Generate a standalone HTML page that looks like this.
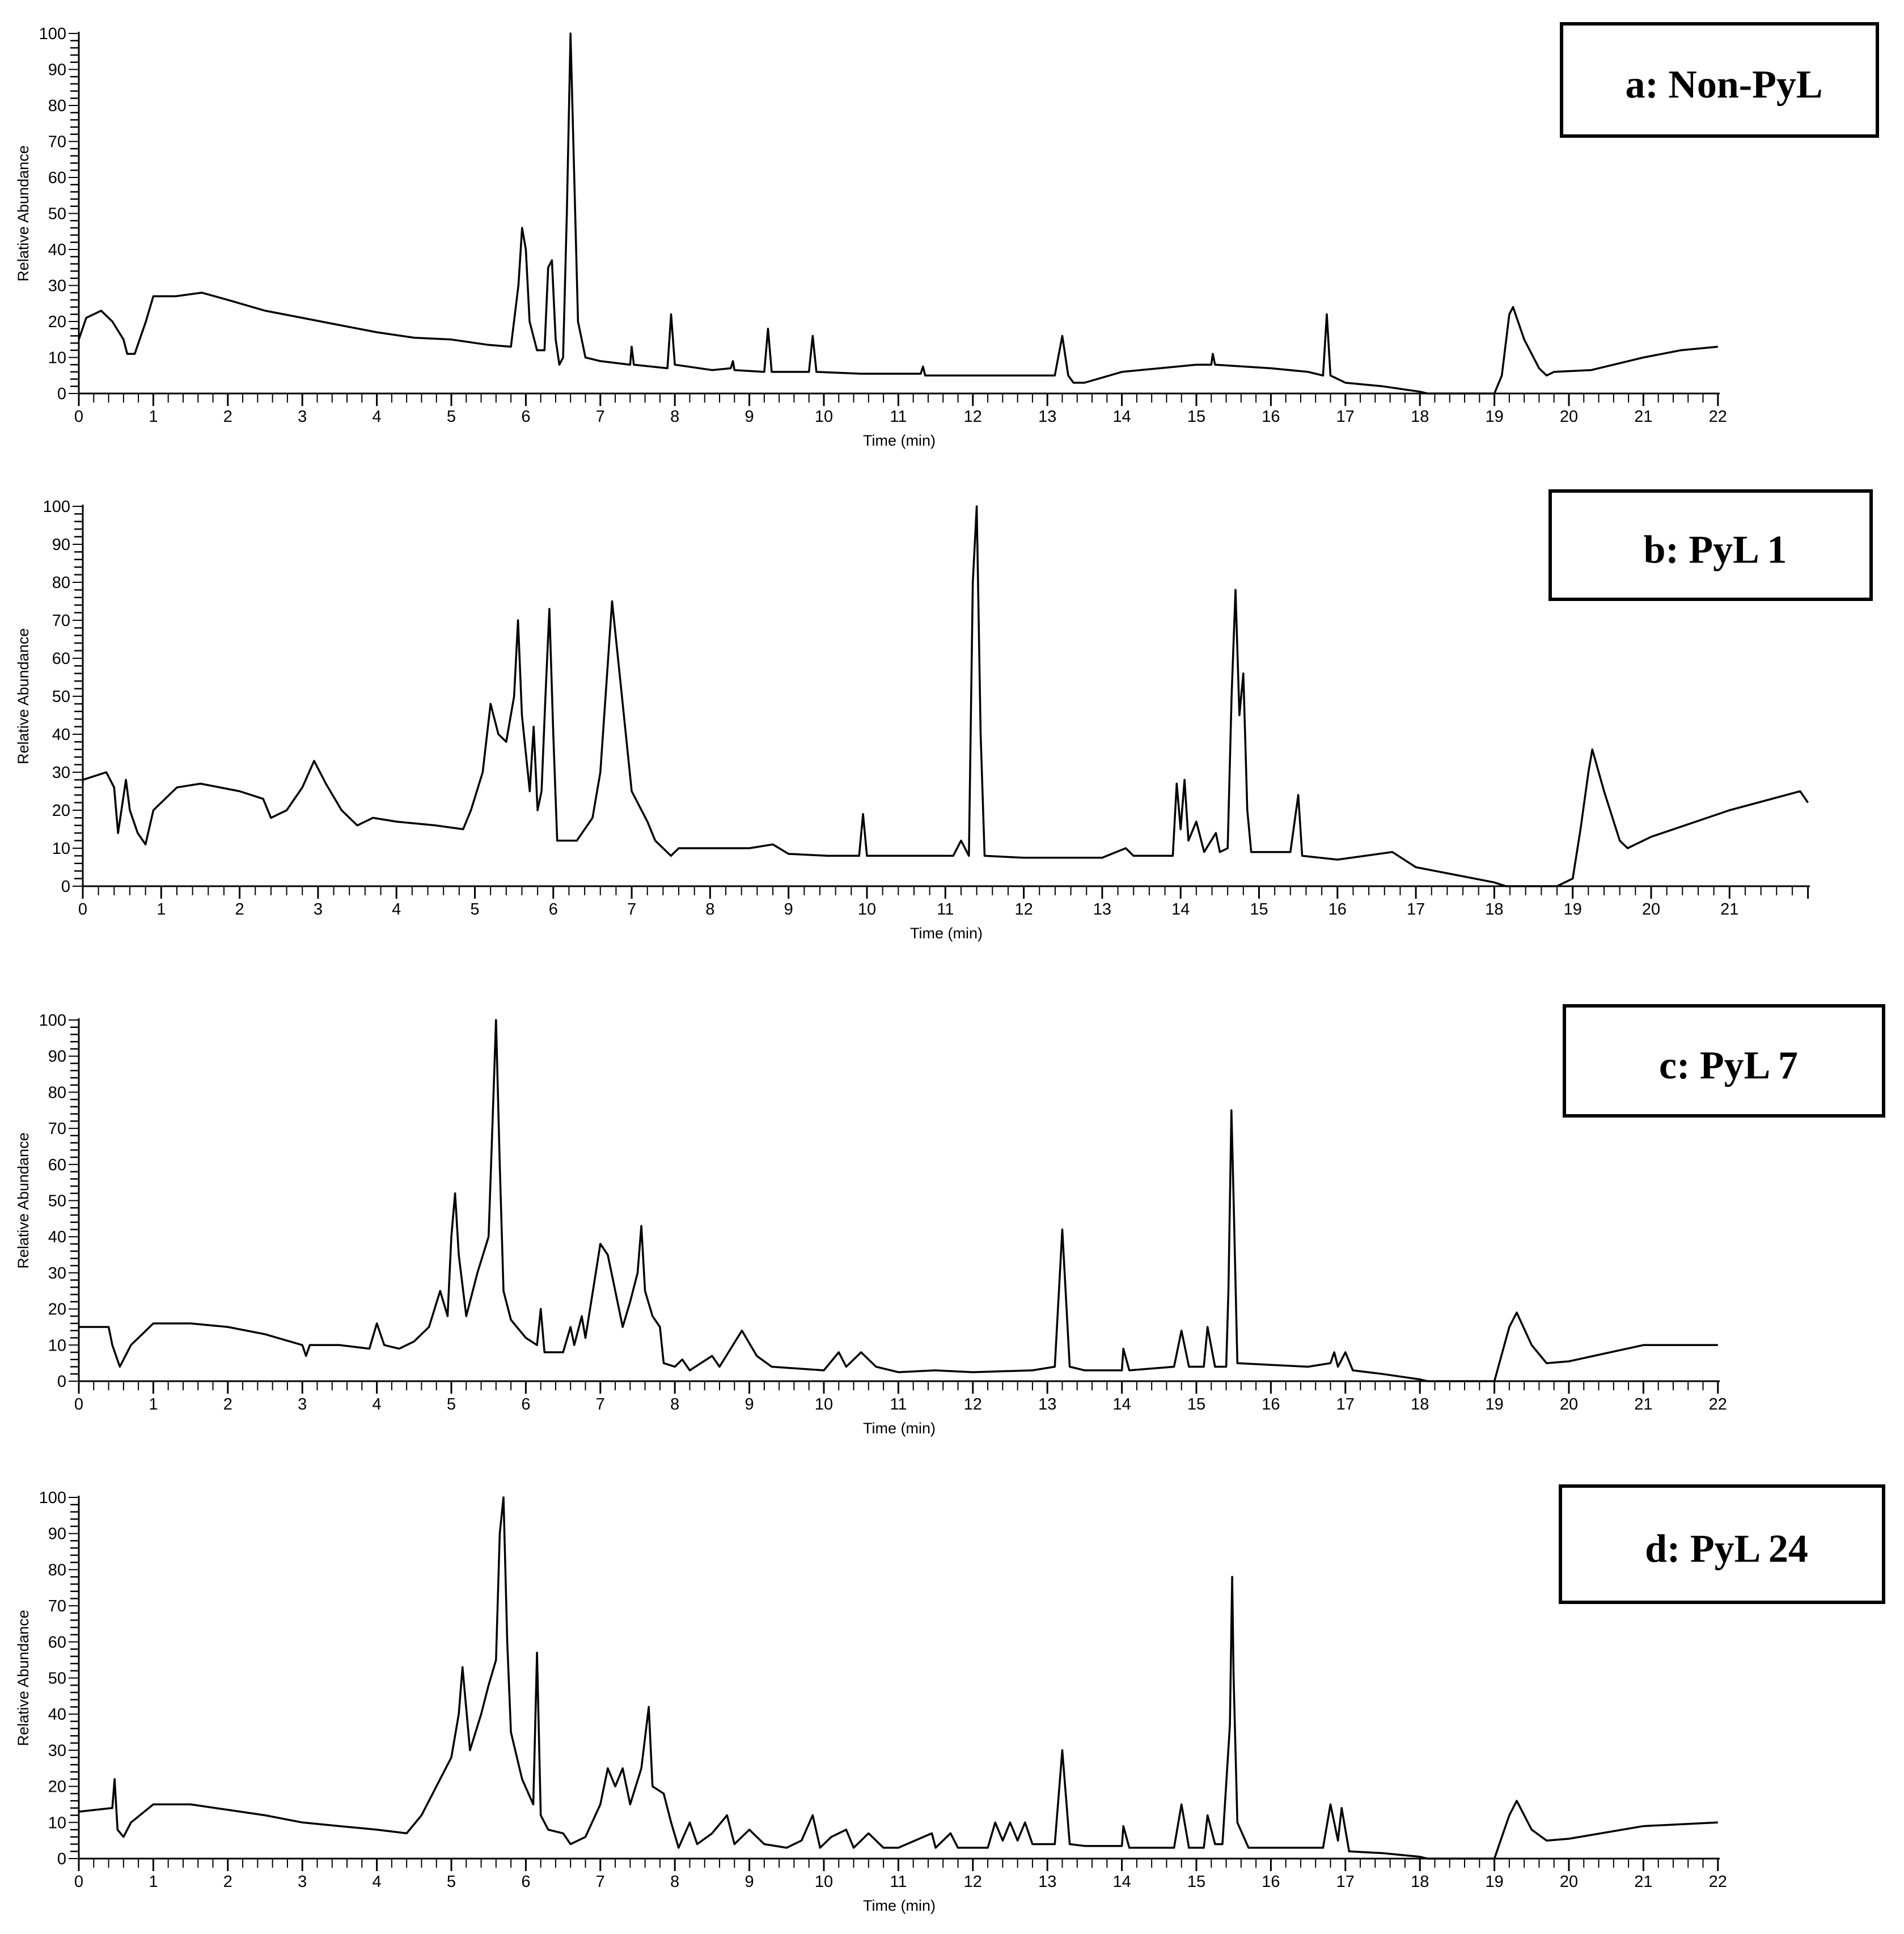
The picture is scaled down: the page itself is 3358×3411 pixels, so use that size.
<!DOCTYPE html>
<html><head><meta charset="utf-8">
<style>
html,body{margin:0;padding:0;background:#fff;}
svg{display:block;}
text{font-family:"Liberation Sans",sans-serif;fill:#000;}
.box{font-family:"Liberation Serif",serif;font-weight:bold;}
</style></head>
<body>
<svg id="chart" width="3358" height="3411" viewBox="0 0 3358 3411" xmlns="http://www.w3.org/2000/svg"></svg>
<script>
const timesA=[0,0.1,0.3,0.45,0.6,0.65,0.75,0.9,1.0,1.3,1.65,2,2.5,3,3.5,4,4.5,5,5.5,5.8,5.9,5.95,6.0,6.05,6.15,6.25,6.3,6.35,6.4,6.45,6.5,6.55,6.6,6.65,6.7,6.8,7.0,7.4,7.42,7.45,7.9,7.95,8.0,8.5,8.75,8.78,8.8,9.2,9.25,9.3,9.8,9.85,9.9,10.5,11.3,11.33,11.36,12,12.5,13.1,13.2,13.28,13.35,13.5,14,15,15.2,15.22,15.25,16,16.5,16.7,16.75,16.8,17,17.5,18,18.1,19,19.1,19.2,19.25,19.4,19.6,19.7,19.8,20.3,21,21.5,22];
const valuesA=[15,21,23,20,15,11,11,20,27,27,28,26,23,21,19,17,15.5,15,13.5,13,30,46,40,20,12,12,35,37,15,8,10,50,100,60,20,10,9,8,13,8,7,22,8,6.5,7,9,6.5,6,18,6,6,16,6,5.5,5.5,7.5,5,5,5,5,16,5,3,3,6,8,8,11,8,7,6,5,22,5,3,2,0.5,0,0,5,22,24,15,7,5,6,6.5,10,12,13];
const timesB=[0,0.3,0.4,0.45,0.55,0.6,0.7,0.8,0.9,1.2,1.5,2,2.3,2.4,2.6,2.8,2.95,3.1,3.3,3.5,3.7,4,4.5,4.85,4.95,5.1,5.2,5.3,5.4,5.5,5.55,5.6,5.7,5.75,5.8,5.85,5.9,5.95,6.0,6.05,6.3,6.5,6.6,6.75,6.85,7.0,7.2,7.3,7.5,7.6,8,8.5,8.8,9,9.5,9.9,9.95,10.0,10.5,11.1,11.2,11.3,11.35,11.4,11.45,11.5,12,13,13.3,13.4,13.9,13.95,14.0,14.05,14.1,14.2,14.3,14.45,14.5,14.6,14.65,14.7,14.75,14.8,14.85,14.9,15.4,15.5,15.55,16,16.7,17,17.5,18,18.15,18.8,19.0,19.1,19.2,19.25,19.4,19.6,19.7,20,21,21.9,22];
const valuesB=[28,30,26,14,28,20,14,11,20,26,27,25,23,18,20,26,33,27,20,16,18,17,16,15,20,30,48,40,38,50,70,45,25,42,20,25,50,73,40,12,12,18,30,75,55,25,17,12,8,10,10,10,11,8.5,8,8,19,8,8,8,12,8,80,100,40,8,7.5,7.5,10,8,8,27,15,28,12,17,9,14,9,10,50,78,45,56,20,9,9,24,8,7,9,5,3,1,0,0,2,15,30,36,25,12,10,13,20,25,22];
const timesC=[0,0.4,0.45,0.55,0.7,1.0,1.5,2,2.5,3,3.05,3.1,3.5,3.9,4.0,4.1,4.3,4.5,4.7,4.85,4.95,5.0,5.05,5.1,5.2,5.35,5.5,5.55,5.6,5.65,5.7,5.8,6.0,6.15,6.2,6.25,6.5,6.6,6.65,6.75,6.8,6.9,7.0,7.1,7.2,7.3,7.4,7.5,7.55,7.6,7.7,7.8,7.85,8,8.1,8.2,8.5,8.6,8.9,9.1,9.3,10,10.2,10.3,10.5,10.7,11,11.5,12,12.8,13.1,13.2,13.3,13.5,14,14.02,14.1,14.7,14.8,14.9,15.1,15.15,15.25,15.4,15.43,15.47,15.5,15.55,16,16.5,16.8,16.85,16.9,17.0,17.1,17.5,18,18.1,19.0,19.2,19.3,19.5,19.7,20,21,22];
const valuesC=[15,15,10,4,10,16,16,15,13,10,7,10,10,9,16,10,9,11,15,25,18,40,52,35,18,30,40,70,100,60,25,17,12,10,20,8,8,15,10,18,12,25,38,35,25,15,22,30,43,25,18,15,5,4,6,3,7,4,14,7,4,3,8,4,8,4,2.5,3,2.5,3,4,42,4,3,3,9,3,4,14,4,4,15,4,4,25,75,50,5,4.5,4,5,8,4,8,3,2,0.5,0,0,15,19,10,5,5.5,10,10];
const timesD=[0,0.45,0.48,0.52,0.6,0.7,1.0,1.5,2,2.5,3,3.5,4,4.4,4.6,4.8,5.0,5.1,5.15,5.25,5.4,5.5,5.6,5.65,5.7,5.75,5.8,5.95,6.1,6.15,6.2,6.3,6.5,6.6,6.8,7.0,7.1,7.2,7.3,7.4,7.55,7.65,7.7,7.85,7.95,8.05,8.2,8.3,8.5,8.7,8.8,9.0,9.2,9.5,9.7,9.85,9.95,10.1,10.3,10.4,10.6,10.8,11,11.45,11.5,11.7,11.8,12.2,12.3,12.4,12.5,12.6,12.7,12.8,13.1,13.2,13.3,13.5,14,14.02,14.1,14.7,14.8,14.9,15.1,15.15,15.25,15.35,15.45,15.48,15.5,15.55,15.7,16,16.7,16.8,16.9,16.95,17.05,17.5,18,18.1,19.0,19.2,19.3,19.5,19.7,20,21,22];
const valuesD=[13,14,22,8,6,10,15,15,13.5,12,10,9,8,7,12,20,28,40,53,30,40,48,55,90,100,60,35,22,15,57,12,8,7,4,6,15,25,20,25,15,25,42,20,18,10,3,10,4,7,12,4,8,4,3,5,12,3,6,8,3,7,3,3,7,3,7,3,3,10,5,10,5,10,4,4,30,4,3.5,3.5,9,3,3,15,3,3,12,4,4,37,78,50,10,3,3,3,15,5,14,2,1.5,0.5,0,0,12,16,8,5,5.5,9,10];
const yTickLabels=["0","10","20","30","40","50","60","70","80","90","100"];
const xTickLabelsA=["0","1","2","3","4","5","6","7","8","9","10","11","12","13","14","15","16","17","18","19","20","21","22"];
const xTickLabelsB=["0","1","2","3","4","5","6","7","8","9","10","11","12","13","14","15","16","17","18","19","20","21"];

const NS="http://www.w3.org/2000/svg";
const svg=document.getElementById('chart');
function mk(tag,attrs,parent){const e=document.createElementNS(NS,tag);for(const k in attrs)e.setAttribute(k,attrs[k]);(parent||svg).appendChild(e);return e;}

const panels=[
 {id:'a',times:timesA,values:valuesA,xl:xTickLabelsA,x0:139,pxMin:131.4,xEnd:3033,y0:694,y100:59,box:[2751,39,3314,243],label:'a: Non-PyL'},
 {id:'b',times:timesB,values:valuesB,xl:xTickLabelsB,x0:146,pxMin:138.3,xEnd:3192,y0:1563,y100:893,box:[2731,863,3303,1060],label:'b: PyL 1'},
 {id:'c',times:timesC,values:valuesC,xl:xTickLabelsA,x0:139,pxMin:131.4,xEnd:3033,y0:2436,y100:1799,box:[2756,1771,3325,1971],label:'c: PyL 7'},
 {id:'d',times:timesD,values:valuesD,xl:xTickLabelsA,x0:139,pxMin:131.4,xEnd:3033,y0:3278,y100:2641,box:[2749,2618,3325,2829],label:'d: PyL 24'}
];

panels.forEach(p=>{
  const g=mk('g',{});
  
  
  const xs=t=>p.x0+t*p.pxMin;
  const yScale=v=>p.y0-(p.y0-p.y100)*v/100;
  const ya=mk('line',{x1:p.x0,y1:p.y100-3,x2:p.x0,y2:p.y0+3,stroke:'#000','stroke-width':3},g);
  
  
  for(let v=0;v<=100;v+=2){
    const y=yScale(v);
    const major=v%10===0;
    mk('line',{x1:p.x0-(major?18:15),y1:y,x2:p.x0,y2:y,stroke:'#000','stroke-width':major?2:2.5},g);
  }
  yTickLabels.forEach((lab,i)=>{
    const t=mk('text',{x:p.x0-22,y:yScale(i*10)+10,'font-size':29,'text-anchor':'end'},g);
    t.textContent=lab;
    
    
  });
  const yl=mk('text',{x:0,y:0,'font-size':27,'text-anchor':'middle',transform:`translate(50,${(p.y0+p.y100)/2}) rotate(-90)`},g);
  yl.textContent='Relative Abundance';
  
  
  const xa=mk('line',{x1:p.x0,y1:p.y0,x2:p.xEnd,y2:p.y0,stroke:'#000','stroke-width':3},g);
  
  
  const nMin=(p.xEnd-p.x0)/p.pxMin;
  for(let k=0;k<=Math.floor(nMin*5+0.01);k++){
    const x=xs(k/5);
    const major=k%5===0;
    mk('line',{x1:x,y1:p.y0,x2:x,y2:p.y0+(major?22:16),stroke:'#000','stroke-width':major?3:2},g);
  }
  p.xl.forEach((lab,i)=>{
    const t=mk('text',{x:xs(i),y:p.y0+50,'font-size':29,'text-anchor':'middle'},g);
    t.textContent=lab;
    
    
  });
  const xt=mk('text',{x:(p.x0+p.xEnd)/2,y:p.y0+92,'font-size':27,'text-anchor':'middle'},g);
  xt.textContent='Time (min)';
  
  
  let d='';
  p.times.forEach((t,i)=>{d+=(i?'L':'M')+xs(t).toFixed(1)+','+yScale(p.values[i]).toFixed(1);});
  const path=mk('path',{d:d,fill:'none',stroke:'#000','stroke-width':3.5,'stroke-linejoin':'round'},g);
  
  
  const [bx1,by1,bx2,by2]=p.box;
  const r=mk('rect',{x:bx1+3,y:by1+3,width:bx2-bx1-6,height:by2-by1-6,fill:'none',stroke:'#000','stroke-width':6},g);
  
  
  const bt=mk('text',{x:(bx1+bx2)/2+8,y:(by1+by2)/2+31,'font-size':70,'text-anchor':'middle','class':'box'},g);
  bt.textContent=p.label;
  
  
});
</script>
</body></html>
